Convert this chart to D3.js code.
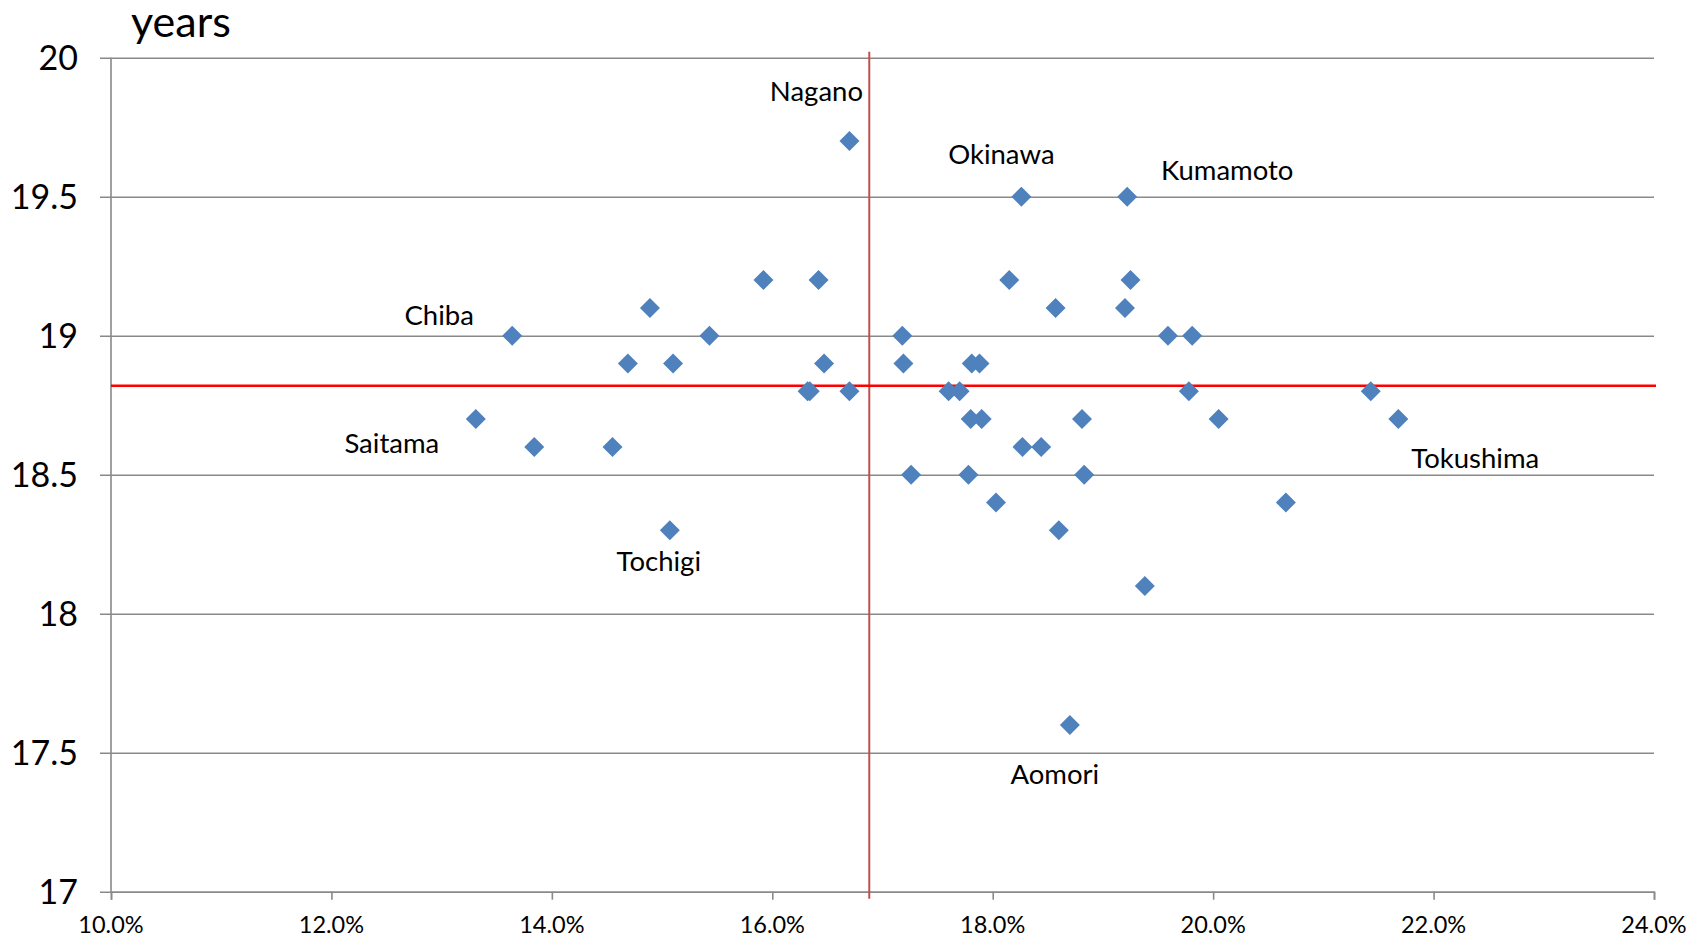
<!DOCTYPE html>
<html>
<head>
<meta charset="utf-8">
<script src="https://cdn.jsdelivr.net/npm/d3@7/dist/d3.min.js"></script>
<style>
  html, body { margin: 0; padding: 0; background: #fff; }
  svg { display: block; font-family: Lato, "Open Sans", sans-serif; }
</style>
</head>
<body>
<svg id="chart" width="1703" height="940"></svg>
<script>
// Share (%) on the x axis, years on the y axis, one point per prefecture
const shares = [
  16.70, 18.26, 19.22, 15.92, 16.42, 18.15, 19.25, 14.89, 18.57, 19.20,
  13.64, 15.43, 17.18, 19.59, 19.81, 14.69, 15.10, 16.47, 17.19, 17.81,
  17.88, 16.32, 16.34, 16.70, 17.60, 17.70, 19.78, 21.43, 13.31, 17.80,
  17.90, 18.81, 20.05, 21.68, 13.84, 14.55, 18.27, 18.44, 17.26, 17.78,
  18.83, 18.03, 20.66, 15.07, 18.60, 19.38, 18.70
];
const years = [
  19.7, 19.5, 19.5, 19.2, 19.2, 19.2, 19.2, 19.1, 19.1, 19.1,
  19.0, 19.0, 19.0, 19.0, 19.0, 18.9, 18.9, 18.9, 18.9, 18.9,
  18.9, 18.8, 18.8, 18.8, 18.8, 18.8, 18.8, 18.8, 18.7, 18.7,
  18.7, 18.7, 18.7, 18.7, 18.6, 18.6, 18.6, 18.6, 18.5, 18.5,
  18.5, 18.4, 18.4, 18.3, 18.3, 18.1, 17.6
];
const names = [
  "Nagano", "Okinawa", "Kumamoto", "", "", "", "", "", "", "",
  "Chiba", "", "", "", "", "", "", "", "", "",
  "", "", "", "", "", "", "", "", "Saitama", "",
  "", "", "", "Tokushima", "", "", "", "", "", "",
  "", "", "", "Tochigi", "", "", "Aomori"
];

// National reference values (crosshair lines)
const avgShare = 16.88;
const avgYears = 18.82;

const xTicks = [10, 12, 14, 16, 18, 20, 22, 24];
const yTicks = [17, 17.5, 18, 18.5, 19, 19.5, 20];
const yUnit = "years";

// Label placement relative to each labelled point
const labelOffset = {
  Nagano:    [-33, -40],
  Okinawa:   [-20, -33],
  Kumamoto:  [100, -17],
  Chiba:     [-73, -11],
  Saitama:   [-84, 34],
  Tochigi:   [-11, 41],
  Tokushima: [77, 49],
  Aomori:    [-15, 59]
};

const svg = d3.select("#chart");
const plotLeft = 111, plotRight = 1654, plotTop = 57.7, plotBottom = 891.7;

const x = d3.scaleLinear().domain([10, 24]).range([plotLeft, plotRight]);
const y = d3.scaleLinear().domain([17, 20]).range([plotBottom, plotTop]);

const gridColor = "#898989";

// Horizontal gridlines (also the left tick stubs)
svg.append("g")
  .attr("transform", `translate(${plotLeft},0)`)
  .call(d3.axisLeft(y).tickValues(yTicks).tickSize(-(plotRight - plotLeft)).tickFormat(""))
  .call(g => g.select(".domain").remove())
  .call(g => g.selectAll(".tick line")
    .attr("x1", -11)
    .attr("stroke", gridColor).attr("stroke-width", 1.6));

// Y axis line + labels
svg.append("line")
  .attr("x1", plotLeft).attr("x2", plotLeft).attr("y1", plotTop).attr("y2", plotBottom)
  .attr("stroke", gridColor).attr("stroke-width", 1.6);

svg.append("g")
  .selectAll("text")
  .data(yTicks)
  .join("text")
  .attr("x", 78)
  .attr("y", d => y(d))
  .attr("dy", "0.36em")
  .attr("text-anchor", "end")
  .attr("font-size", 34)
  .attr("fill", "#000")
  .text(d => d3.format("~g")(d));

// X axis
const xAxis = svg.append("g")
  .attr("transform", `translate(0,${plotBottom})`)
  .call(d3.axisBottom(x).tickValues(xTicks).tickSize(8).tickPadding(0).tickFormat(""));
xAxis.select(".domain").attr("stroke", gridColor).attr("stroke-width", 1.6);
xAxis.selectAll(".tick line").attr("stroke", gridColor).attr("stroke-width", 1.6);

svg.append("g")
  .selectAll("text")
  .data(xTicks)
  .join("text")
  .attr("x", d => x(d))
  .attr("y", 933)
  .attr("text-anchor", "middle")
  .attr("font-size", 23.5)
  .attr("fill", "#000")
  .text(d => d.toFixed(1) + "%");

// Unit label
svg.append("text")
  .attr("x", 131).attr("y", 37)
  .attr("font-size", 43)
  .attr("fill", "#000")
  .text(yUnit);

// Reference crosshair
svg.append("line")
  .attr("x1", x(avgShare)).attr("x2", x(avgShare))
  .attr("y1", y(20) - 6).attr("y2", y(17) + 7)
  .attr("stroke", "#C0504D").attr("stroke-width", 2);
svg.append("line")
  .attr("x1", x(10)).attr("x2", x(24) + 2)
  .attr("y1", y(avgYears)).attr("y2", y(avgYears))
  .attr("stroke", "#FF0000").attr("stroke-width", 2.5);

// Points
const points = shares.map((s, i) => ({ s, v: years[i], name: names[i] }));
const diamond = d3.symbol(d3.symbolSquare, 200);
svg.append("g")
  .selectAll("path")
  .data(points)
  .join("path")
  .attr("d", diamond)
  .attr("transform", d => `translate(${x(d.s)},${y(d.v)}) rotate(45)`)
  .attr("fill", "#4F81BD");

// Prefecture labels
svg.append("g")
  .selectAll("text")
  .data(points.filter(d => d.name))
  .join("text")
  .attr("x", d => x(d.s) + labelOffset[d.name][0])
  .attr("y", d => y(d.v) + labelOffset[d.name][1])
  .attr("text-anchor", "middle")
  .attr("font-size", 27.5)
  .attr("fill", "#000")
  .text(d => d.name);
</script>
</body>
</html>
